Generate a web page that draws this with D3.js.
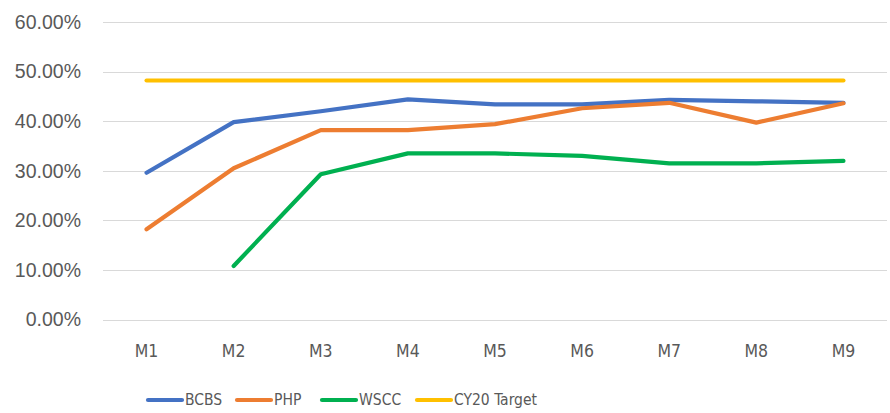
<!DOCTYPE html>
<html>
<head>
<meta charset="utf-8">
<script src="https://cdn.jsdelivr.net/npm/d3@7"></script>
<style>
  body { margin: 0; background: #fff; }
  svg { display: block; }
  .ylab { font-family: "Liberation Sans", Arial, sans-serif; font-size: 19.5px; fill: #595959; }
  .xlab { font-family: "Liberation Sans Narrow", "DejaVu Sans Condensed", sans-serif; font-size: 17.5px; fill: #595959; }
  .leg { font-family: "Liberation Sans Narrow", "DejaVu Sans Condensed", sans-serif; font-size: 15.5px; fill: #595959; }
</style>
</head>
<body>
<svg width="890" height="413"></svg>
<script>
var months = ["M1", "M2", "M3", "M4", "M5", "M6", "M7", "M8", "M9"];
var yTicks = [0, 0.1, 0.2, 0.3, 0.4, 0.5, 0.6];

var bcbs = [0.296, 0.398, 0.420, 0.444, 0.434, 0.434, 0.443, 0.440, 0.437];
var php = [0.182, 0.305, 0.382, 0.382, 0.394, 0.426, 0.437, 0.397, 0.436];
var wscc = [null, 0.108, 0.293, 0.335, 0.335, 0.330, 0.315, 0.315, 0.320];
var target = [0.482, 0.482, 0.482, 0.482, 0.482, 0.482, 0.482, 0.482, 0.482];

var seriesNames = ["BCBS", "PHP", "WSCC", "CY20 Target"];
var seriesColors = ["#4472C4", "#ED7D31", "#00B050", "#FFC000"];
var seriesValues = [bcbs, php, wscc, target];

var svg = d3.select("svg"),
    width = +svg.attr("width"),
    height = +svg.attr("height");

var x = d3.scaleBand()
    .domain(months)
    .range([103, 887]);

var y = d3.scaleLinear()
    .domain([0, 0.6])
    .range([319.5, 22]);

// gridlines
svg.append("g")
    .selectAll("line")
    .data(yTicks)
    .enter()
    .append("line")
    .attr("x1", 103)
    .attr("x2", 887)
    .attr("y1", d => Math.round(y(d)) + 0.5)
    .attr("y2", d => Math.round(y(d)) + 0.5)
    .attr("stroke", "#d9d9d9")
    .attr("stroke-width", 1.2);

// y labels
svg.append("g")
    .selectAll("text")
    .data(yTicks)
    .enter()
    .append("text")
    .attr("class", "ylab")
    .attr("x", 81)
    .attr("y", d => y(d))
    .attr("dy", "0.35em")
    .attr("text-anchor", "end")
    .text(d => d3.format(".2%")(d));

// x labels
svg.append("g")
    .selectAll("text")
    .data(months)
    .enter()
    .append("text")
    .attr("class", "xlab")
    .attr("x", d => x(d) + x.bandwidth() / 2)
    .attr("y", 351)
    .attr("dy", "0.35em")
    .attr("text-anchor", "middle")
    .text(d => d);

var line = d3.line()
    .defined(d => d.v != null)
    .x(d => x(d.m) + x.bandwidth() / 2)
    .y(d => y(d.v));

svg.append("g")
    .selectAll("path")
    .data(seriesValues)
    .enter()
    .append("path")
    .attr("d", vals => line(vals.map((v, i) => ({m: months[i], v: v}))))
    .attr("fill", "none")
    .attr("stroke", (d, i) => seriesColors[i])
    .attr("stroke-width", 4.2)
    .attr("stroke-linejoin", "round")
    .attr("stroke-linecap", "round");

// legend
var legX = [148, 237, 322, 417];
var leg = svg.append("g")
    .selectAll("g")
    .data(seriesNames)
    .enter()
    .append("g")
    .attr("transform", (d, i) => "translate(" + legX[i] + ",400)");

leg.append("line")
    .attr("x1", 0)
    .attr("x2", 34)
    .attr("stroke", (d, i) => seriesColors[i])
    .attr("stroke-width", 4.2)
    .attr("stroke-linecap", "round");

leg.append("text")
    .attr("class", "leg")
    .attr("x", 37)
    .attr("dy", "0.35em")
    .text(d => d);
</script>
</body>
</html>
